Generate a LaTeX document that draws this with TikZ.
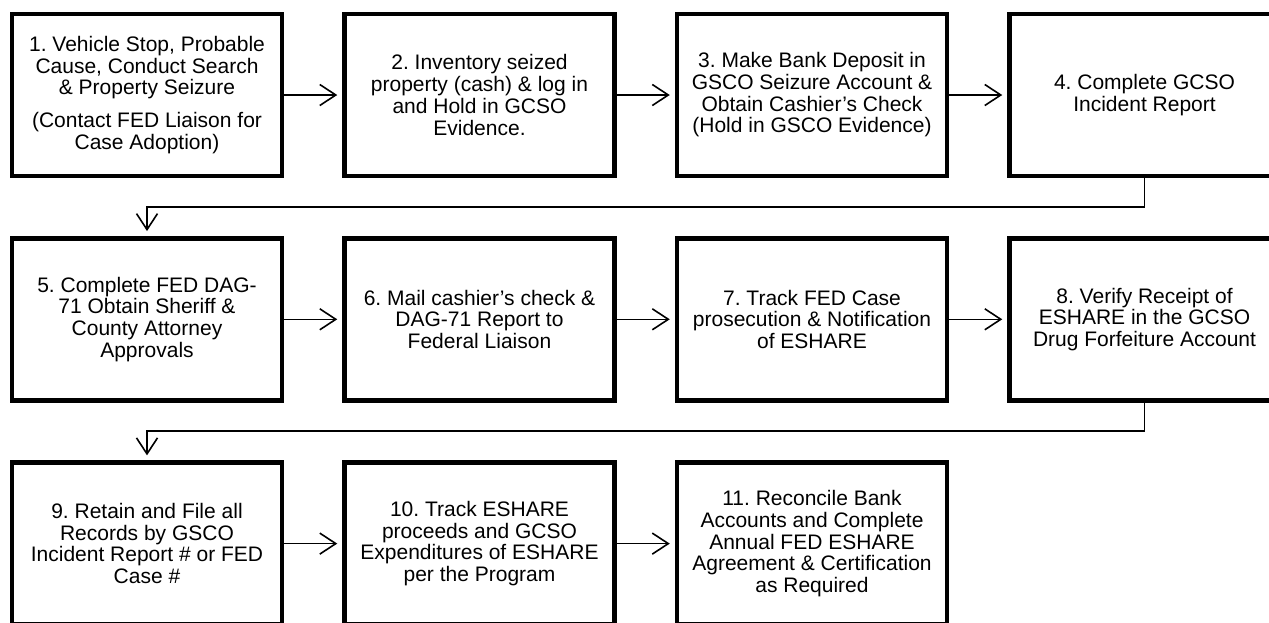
\documentclass[tikz,border=0pt]{standalone}
\usepackage{fontspec}
\setmainfont{Liberation Sans}
\usetikzlibrary{arrows.meta}
\tikzset{
  stepbox/.style={draw=black, line width=4.5pt, rectangle, minimum width=270pt, minimum height=162pt,
    align=center, inner sep=4pt, font=\fontsize{21}{21.7}\selectfont\frenchspacing},
  conn/.style={draw=black, line width=1.6pt, -{Straight Barb[length=16pt,width=21pt,line width=1.6pt]}, shorten >=5pt},
}
\begin{document}
\begin{tikzpicture}[x=1pt,y=-1pt]
\useasboundingbox (0,0) rectangle (1269,622);
\clip (0,0) rectangle (1269,622);
\fill[white] (0,0) rectangle (1269,622);
% row 1
\node[stepbox] (n1) at (147,95) {1. Vehicle Stop, Probable\\Cause, Conduct Search\\\& Property Seizure\\[11pt](Contact FED Liaison for\\Case Adoption)};
\node[stepbox] (n2) at (479.5,95) {2. Inventory seized\\property (cash) \& log in\\and Hold in GCSO\\Evidence.};
\node[stepbox] (n3) at (812,95) {3. Make Bank Deposit in\\GSCO Seizure Account \&\\Obtain Cashier’s Check\\(Hold in GSCO Evidence)};
\node[stepbox] (n4) at (1144.5,95) {4. Complete GCSO\\Incident Report};
% row 2
\node[stepbox] (n5) at (147,319.3) {5. Complete FED DAG-\\71 Obtain Sheriff \&\\County Attorney\\Approvals};
\node[stepbox] (n6) at (479.5,319.3) {6. Mail cashier’s check \&\\DAG-71 Report to\\Federal Liaison};
\node[stepbox] (n7) at (812,319.3) {7. Track FED Case\\prosecution \& Notification\\of ESHARE};
\node[stepbox] (n8) at (1144.5,319.3) {8. Verify Receipt of\\ESHARE in the GCSO\\Drug Forfeiture Account};
% row 3
\node[stepbox] (n9) at (147,543.6) {9. Retain and File all\\Records by GSCO\\Incident Report \# or FED\\Case \#};
\node[stepbox] (n10) at (479.5,543.6) {10. Track ESHARE\\proceeds and GCSO\\Expenditures of ESHARE\\per the Program};
\node[stepbox] (n11) at (812,543.6) {11. Reconcile Bank\\Accounts and Complete\\Annual FED ESHARE\\Agreement \& Certification\\as Required};
% connectors
\draw[conn] (n1) -- (n2);
\draw[conn] (n2) -- (n3);
\draw[conn] (n3) -- (n4);
\coordinate (c1) at (147,207);
\draw[conn] (n4.south) |- (c1) -- (n5.north);
\draw[conn] (n5) -- (n6);
\draw[conn] (n6) -- (n7);
\draw[conn] (n7) -- (n8);
\coordinate (c2) at (147,431);
\draw[conn] (n8.south) |- (c2) -- (n9.north);
\draw[conn] (n9) -- (n10);
\draw[conn] (n10) -- (n11);
\end{tikzpicture}
\end{document}
